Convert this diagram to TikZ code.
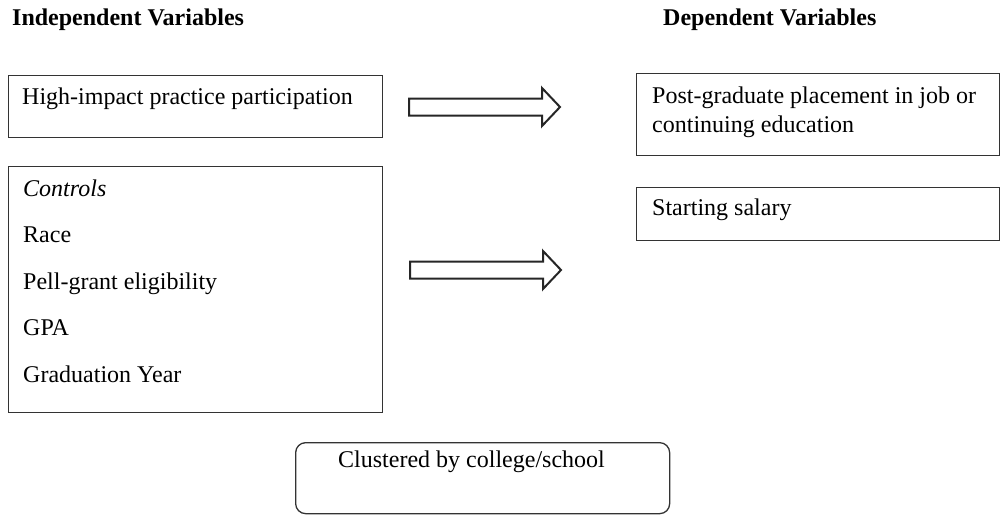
\documentclass[tikz,border=0pt]{standalone}
\usepackage{fontspec}
\setmainfont{Liberation Serif}
\usetikzlibrary{positioning}

\begin{document}
\begin{tikzpicture}[x=1pt, y=-1pt,
box/.style={draw=black!80, line width=1.3pt, inner sep=0pt, anchor=north west},
txt/.style={inner sep=0pt, anchor=base west, font=\fontsize{24}{29.5}\selectfont},
hdr/.style={txt, font=\fontsize{24}{29.5}\selectfont\bfseries},
blockarrow/.pic={
    \draw[line width=2pt, black!85, fill=white, line join=miter]
    (0,-8.5) -- (133,-8.5) -- (133,-19) -- (151,0) -- (133,19) -- (133,8.5) -- (0,8.5) -- cycle;
}]

\useasboundingbox (0,0) rectangle (1000,514);

% HEADERS
\node[hdr] (indep) at (12,25) {Independent Variables};
\node[hdr] (dep) at (663,25) {Dependent Variables};

% independent side
\node[box, minimum width=374pt, minimum height=62pt] (hip) at (8,75) {};
\node[txt] (hiptxt) at ([shift={(14,29)}]hip.north west) {High-impact practice participation};

\node[box, minimum width=374pt, minimum height=246pt] (ctrl) at (8,166) {};
\foreach \lbl [count=\i, evaluate={\dy=30+(\i-1)*46.5;}] in {\textit{Controls},Race,Pell-grant eligibility,GPA,Graduation Year}{
    \node[txt] (ctrl\i) at ([shift={(15,\dy)}]ctrl.north west) {\lbl};
}

% dependent side
\node[box, minimum width=363pt, minimum height=82pt] (place) at (636,73) {};
\node[txt] (placetxt) at ([shift={(16,30)}]place.north west) {Post-graduate placement in job or};
\node[txt] (placetxtb) at ([shift={(16,59)}]place.north west) {continuing education};

\node[box, minimum width=363pt, minimum height=53pt] (salary) at (636,187) {};
\node[txt] (salarytxt) at ([shift={(16,28)}]salary.north west) {Starting salary};

% block arrows
\coordinate (arrA) at (409,107);
\coordinate (arrB) at (410,270);
\pic at (arrA) {blockarrow};
\pic at (arrB) {blockarrow};

% clustering
\node[box, rounded corners=10pt, minimum width=374pt, minimum height=71pt] (clust) at (295,442) {};
\node[txt] (clusttxt) at ([shift={(43,25)}]clust.north west) {Clustered by college/school};

\end{tikzpicture}
\end{document}
